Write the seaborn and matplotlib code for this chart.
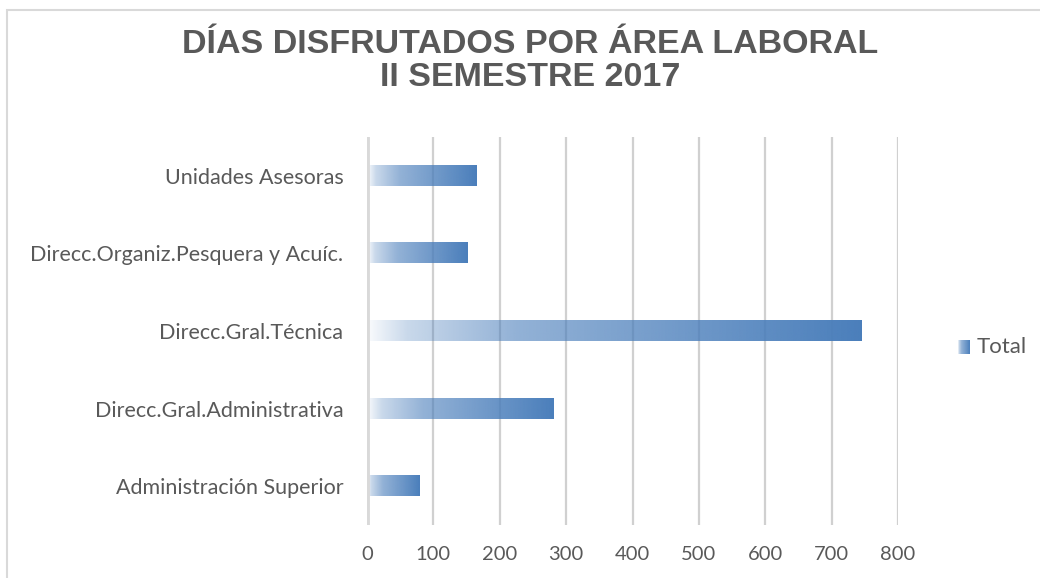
import numpy as np
import pandas as pd
import matplotlib
matplotlib.use("Agg")
import matplotlib.pyplot as plt
from matplotlib.colors import to_rgb
from matplotlib.patches import Rectangle
import seaborn as sns

categories = ["Unidades Asesoras",
              "Direcc.Organiz.Pesquera y Acuíc.",
              "Direcc.Gral.Técnica",
              "Direcc.Gral.Administrativa",
              "Administración Superior"]
values = [165, 152, 745, 281, 79]
xticks = [0, 100, 200, 300, 400, 500, 600, 700, 800]
title = "DÍAS DISFRUTADOS POR ÁREA LABORAL\nII SEMESTRE 2017"
series_name = "Total"

sns.set_theme(style="white")
plt.rcParams['font.family'] = ['Lato', 'DejaVu Sans']

W, H = 1040, 578
fig = plt.figure(figsize=(W / 100, H / 100), dpi=100)
ax = fig.add_axes([367 / W, 1 - 525 / H, (898 - 367) / W, (525 - 137) / H])

df = pd.DataFrame({"cat": categories, "val": values})
sns.barplot(data=df, x="val", y="cat", orient="h", width=0.26,
            color="#4F81BD", ax=ax, zorder=3)

blue = np.array(to_rgb("#4A7EBB"))


def gradient_rgba(n=256):
    t = np.linspace(0, 1, n)
    alpha = np.interp(t, [0, 0.08, 0.3, 1.0], [0.03, 0.3, 0.6, 1.0])
    img = np.zeros((1, n, 4))
    img[0, :, :3] = blue
    img[0, :, 3] = alpha
    return img


for p in list(ax.patches):
    x0, y0 = p.get_x(), p.get_y()
    w, h = p.get_width(), p.get_height()
    p.set_facecolor("none")
    p.set_edgecolor("none")
    ax.imshow(gradient_rgba(), extent=[x0, x0 + w, y0 + h, y0],
              aspect="auto", zorder=4, interpolation="bilinear")

ax.set_xlim(0, 800)
ax.set_ylim(4.5, -0.5)
ax.set_xticks(xticks)
ax.set_xticklabels([str(v) for v in xticks])
ax.set_xlabel("")
ax.set_ylabel("")
ax.grid(axis="x", color="#D0D0D0", linewidth=1.6, zorder=0)
ax.grid(axis="y", visible=False)
for s in ax.spines.values():
    s.set_visible(False)
ax.axvline(0, color="#D9D9D9", linewidth=3.5, zorder=5)
ax.tick_params(axis="x", length=0, pad=15, labelsize=14.5, labelcolor="#595959")
ax.tick_params(axis="y", length=0, pad=17, labelsize=15.5, labelcolor="#595959")

fig.text(530 / W, 1 - 61 / H, title, ha="center", va="center",
         fontsize=24.5, fontweight="bold", color="#595959", linespacing=1.1,
         family=["Liberation Sans Narrow", "Liberation Sans", "DejaVu Sans"])

# legend
lax = fig.add_axes([958 / W, 1 - 354 / H, 12 / W, 14 / H])
lax.imshow(gradient_rgba(), aspect="auto", extent=[0, 1, 0, 1])
lax.set_axis_off()
fig.text(977 / W, 1 - 347 / H, series_name, ha="left", va="center",
         fontsize=16, color="#595959")

fig.add_artist(Rectangle((7 / W, -0.1), 1.2, (1 - 10 / H) + 0.1,
                         transform=fig.transFigure, fill=False,
                         edgecolor="#D9D9D9", linewidth=1.5))

fig.savefig("out.png", dpi=100, facecolor="white")
